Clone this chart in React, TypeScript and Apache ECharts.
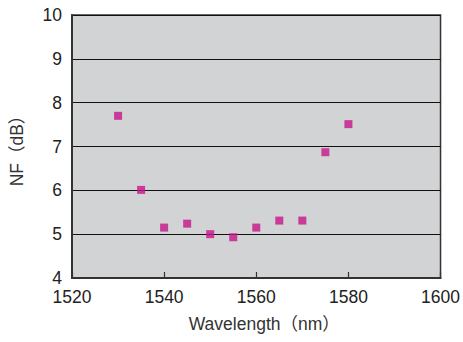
import React, { useEffect, useRef } from "react";
import * as echarts from "echarts";

const wavelengths = [1530, 1535, 1540, 1545, 1550, 1555, 1560, 1565, 1570, 1575, 1580];
const nfValues = [7.7, 6.01, 5.15, 5.24, 5.0, 4.93, 5.15, 5.31, 5.31, 6.87, 7.51];

const FONT = "'Liberation Sans', Arial, 'Noto Sans CJK JP', sans-serif";

export default function App() {
  const ref = useRef<HTMLDivElement>(null);
  useEffect(() => {
    if (!ref.current) return;
    const chart = echarts.init(ref.current, undefined, { renderer: "svg" });
    chart.setOption({
      animation: false,
      backgroundColor: "#ffffff",
      grid: {
        left: 72,
        top: 15,
        right: 21,
        bottom: 64,
        show: true,
        backgroundColor: "#D2D3D5",
        borderColor: "#333333",
        borderWidth: 1.5,
      },
      xAxis: {
        type: "value",
        min: 1520,
        max: 1600,
        interval: 20,
        name: "Wavelength（nm）",
        nameLocation: "middle",
        nameGap: 37,
        nameTextStyle: { color: "#333", fontSize: 17.5, fontFamily: FONT, padding: [0, 0, 0, 16] },
        axisLine: { show: true, lineStyle: { color: "#333", width: 2 } },
        axisTick: { show: true, inside: true, length: 6, lineStyle: { color: "#333", width: 1.2 } },
        axisLabel: {
          color: "#222",
          fontSize: 17.5,
          lineHeight: 17,
          fontFamily: FONT,
          margin: 10,
          formatter: (v: number) => String(v),
        },
        splitLine: { show: false },
      },
      yAxis: {
        type: "value",
        min: 4,
        max: 10,
        interval: 1,
        name: "NF（dB）",
        nameLocation: "middle",
        nameGap: 46,
        nameRotate: 90,
        nameTextStyle: { color: "#333", fontSize: 17.5, fontFamily: FONT },
        axisLine: { show: true, lineStyle: { color: "#333", width: 2 } },
        axisTick: { show: false },
        axisLabel: {
          color: "#222",
          fontSize: 17.5,
          lineHeight: 17,
          fontFamily: FONT,
          margin: 10,
          formatter: (v: number) => String(v),
        },
        splitLine: { show: true, lineStyle: { color: "#111", width: 1.2 } },
      },
      series: [
        {
          type: "scatter",
          symbol: "rect",
          symbolSize: 8,
          itemStyle: { color: "#C7158A" },
          data: wavelengths.map((w, i) => [w, nfValues[i]]),
        },
      ],
    });
    return () => chart.dispose();
  }, []);
  return (
    <div
      ref={ref}
      style={{ position: "absolute", left: 0, top: 0, width: 463, height: 342 }}
    />
  );
}
